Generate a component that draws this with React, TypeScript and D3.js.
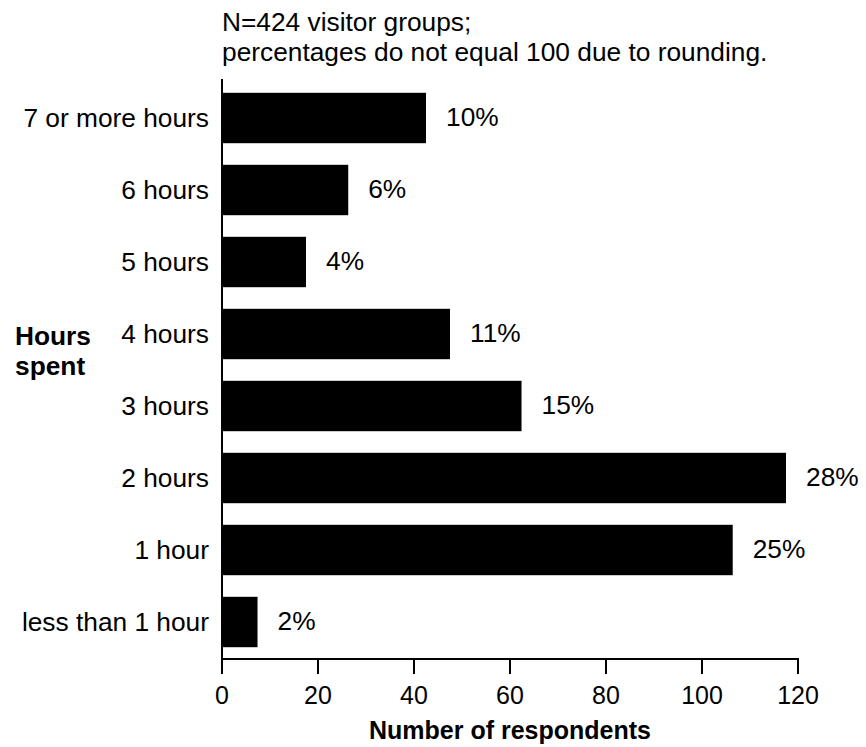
import React from "react";
import * as d3 from "d3";

const categories = [
  "7 or more hours",
  "6 hours",
  "5 hours",
  "4 hours",
  "3 hours",
  "2 hours",
  "1 hour",
  "less than 1 hour",
];
const counts = [42.5, 26.3, 17.5, 47.5, 62.4, 117.5, 106.4, 7.4];
const percentLabels = ["10%", "6%", "4%", "11%", "15%", "28%", "25%", "2%"];
const xTicks = [0, 20, 40, 60, 80, 100, 120];
const noteLines = ["N=424 visitor groups;", "percentages do not equal 100 due to rounding."];
const yTitleLines = ["Hours", "spent"];
const xTitle = "Number of respondents";

const W = 866;
const H = 747;
const FONT = "'Liberation Sans', Arial, Helvetica, sans-serif";
const FS_LABEL = 26.3;
const FS_TICK = 25;

export default function App() {
  const x = d3.scaleLinear().domain([0, 120]).range([222, 798]);
  const y = d3
    .scaleBand<string>()
    .domain(categories)
    .range([82, 658])
    .paddingInner(0.3)
    .paddingOuter(0.15);
  const axisY = 659;

  return (
    <svg
      width={W}
      height={H}
      style={{ position: "absolute", left: 0, top: 0, background: "#fff" }}
      fontFamily={FONT}
    >
      <rect x={0} y={0} width={W} height={H} fill="#fff" />
      {noteLines.map((t, i) => (
        <text key={t} x={222} y={31 + i * 30} fontSize={FS_LABEL} fill="#000">
          {t}
        </text>
      ))}
      {categories.map((c, i) => {
        const yy = y(c)!;
        const bw = y.bandwidth();
        return (
          <g key={c}>
            <rect x={x(0)} y={yy} width={x(counts[i]) - x(0)} height={bw} fill="#000" />
            <text
              x={209}
              y={yy + bw / 2}
              dy="0.36em"
              textAnchor="end"
              fontSize={FS_LABEL}
              fill="#000"
            >
              {c}
            </text>
            <text
              x={x(counts[i]) + 20}
              y={yy + bw / 2}
              dy="0.3em"
              fontSize={FS_LABEL}
              fill="#000"
            >
              {percentLabels[i]}
            </text>
          </g>
        );
      })}
      <line x1={x(0)} x2={x(0)} y1={79} y2={axisY + 1} stroke="#000" strokeWidth={2} />
      <line x1={x(0) - 1} x2={x(120) + 1} y1={axisY} y2={axisY} stroke="#000" strokeWidth={2} />
      {xTicks.map((t) => (
        <g key={t}>
          <line x1={x(t)} x2={x(t)} y1={axisY} y2={axisY + 15} stroke="#000" strokeWidth={2} />
          <text x={x(t)} y={704} textAnchor="middle" fontSize={FS_TICK} fill="#000">
            {t}
          </text>
        </g>
      ))}
      <text x={x(60)} y={739} textAnchor="middle" fontSize={FS_TICK} fontWeight="bold" fill="#000">
        {xTitle}
      </text>
      {yTitleLines.map((t, i) => (
        <text key={t} x={15} y={345 + i * 30} fontSize={FS_LABEL} fontWeight="bold" fill="#000">
          {t}
        </text>
      ))}
    </svg>
  );
}
